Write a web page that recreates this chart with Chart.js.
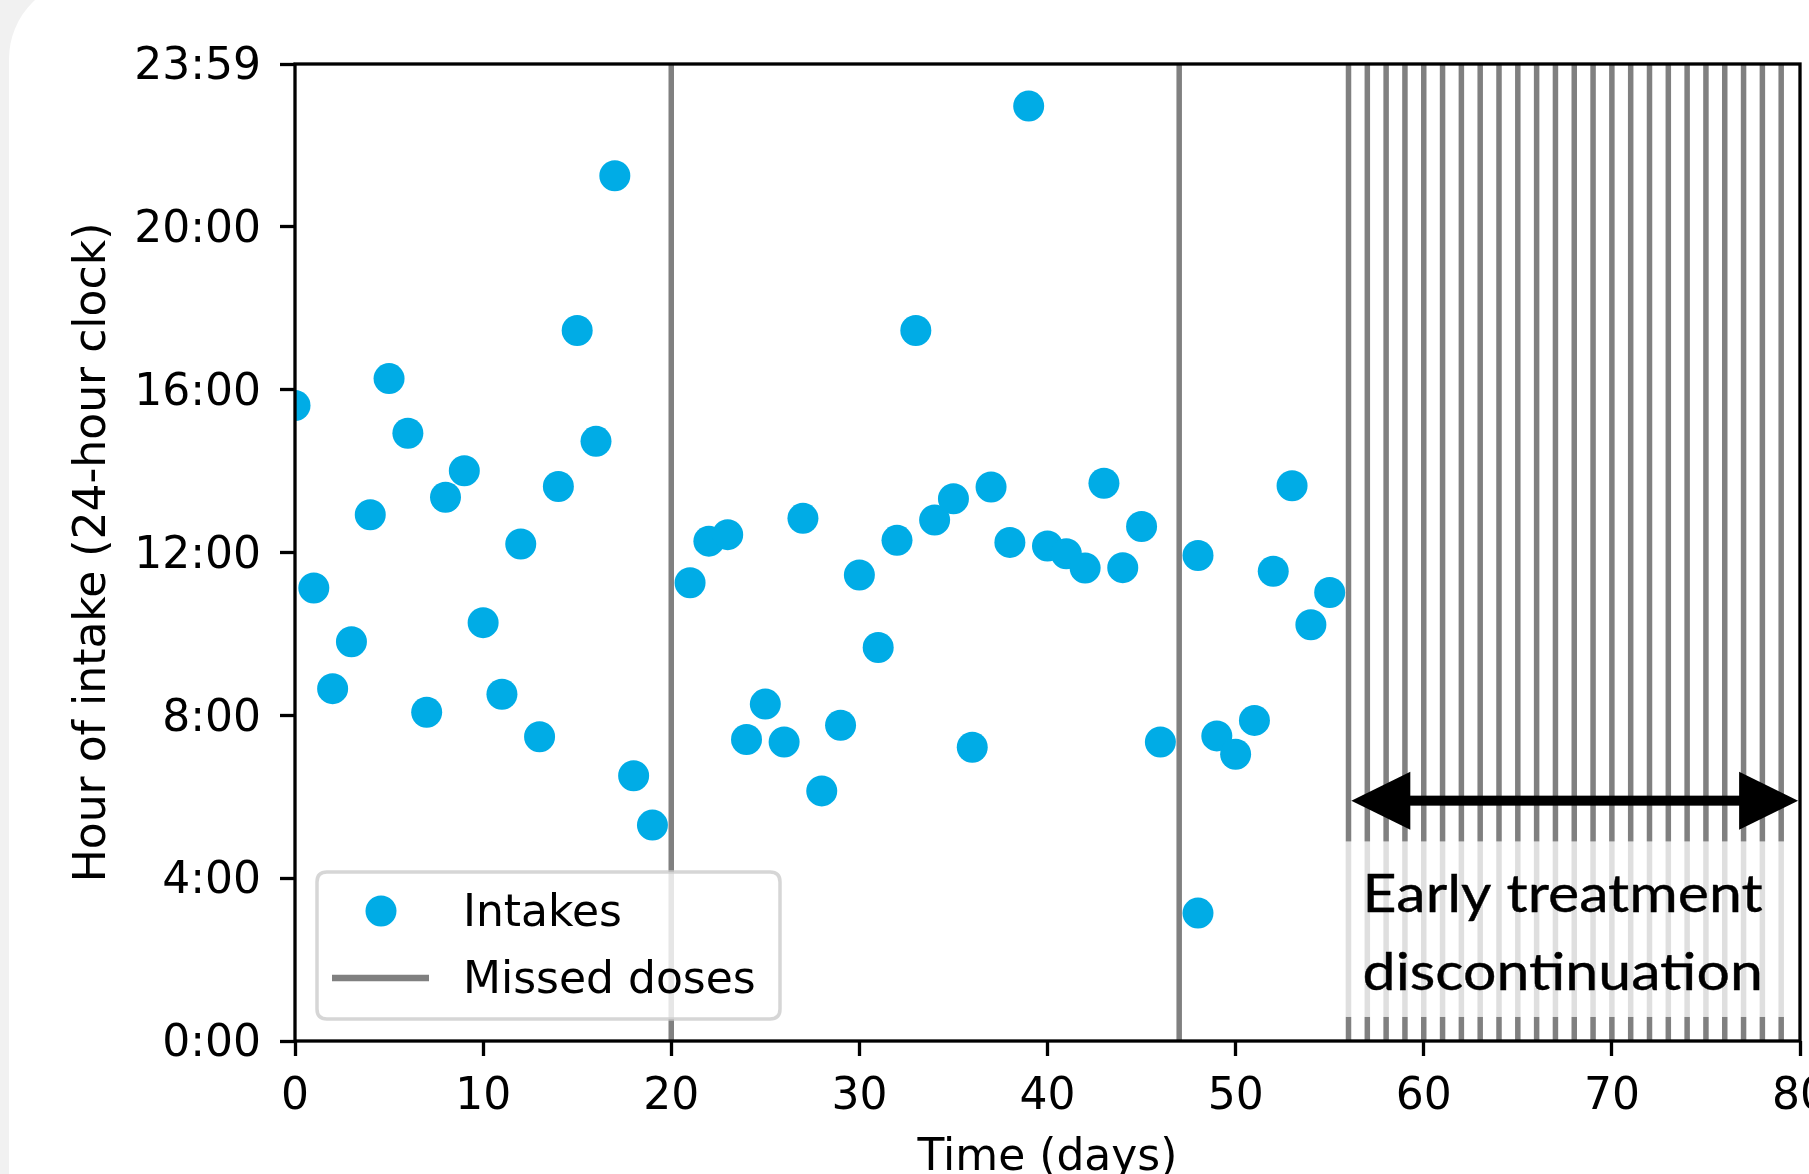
<!DOCTYPE html>
<html>
<head>
<meta charset="utf-8">
<script src="https://cdn.jsdelivr.net/npm/chart.js@4.4.1/dist/chart.umd.min.js"></script>
<style>
  html, body { margin:0; padding:0; width:1809px; height:1174px; overflow:hidden; background:#f1f1f1; }
  #card { position:absolute; left:9px; top:-21px; width:1900px; height:1300px; background:#ffffff; border-radius:80px; }
  #c { position:absolute; left:0; top:0; }
</style>
</head>
<body>
<div id="card"></div>
<canvas id="c" width="1860" height="1230" style="width:1860px;height:1230px"></canvas>
<script>
// ---------------- DATA ----------------
const intakeDays = [
  0, 1, 2, 3, 4, 5, 6, 7, 8, 9, 10, 11, 12, 13, 14, 15, 16, 17, 18, 19,
  21, 22, 23, 24, 25, 26, 27, 28, 29, 30, 31, 32, 33, 34, 35, 36, 37, 38, 39, 40,
  41, 42, 43, 44, 45, 46,
  48, 48, 49, 50, 51, 52, 53, 54, 55
];
// hour of intake (decimal hours, 24-hour clock)
const intakeHours = [
  15.60, 11.12, 8.65, 9.80, 12.92, 16.26, 14.92, 8.07, 13.35, 14.00,
  10.27, 8.51, 12.20, 7.47, 13.61, 17.44, 14.72, 21.24, 6.51, 5.30,
  11.25, 12.27, 12.43, 7.40, 8.27, 7.34, 12.83, 6.14, 7.75, 11.44,
  9.66, 12.29, 17.44, 12.79, 13.31, 7.21, 13.60, 12.24, 22.95, 12.15,
  11.96, 11.61, 13.69, 11.62, 12.63, 7.34,
  11.92, 3.14, 7.49, 7.04, 7.87, 11.53, 13.63, 10.22, 11.01
];
const missedDays = [
  20, 47,
  56, 57, 58, 59, 60, 61, 62, 63, 64, 65, 66, 67, 68, 69, 70, 71, 72, 73, 74, 75, 76, 77, 78, 79
];
const xTickValues = [0, 10, 20, 30, 40, 50, 60, 70, 80];
const yTickValues = [0, 4, 8, 12, 16, 20, 23 + 59 / 60];
const yTickLabels = ['0:00', '4:00', '8:00', '12:00', '16:00', '20:00', '23:59'];
const seriesLabels = ['Intakes', 'Missed doses'];
const noteLines = ['Early treatment', 'discontinuation'];
const axisTitles = { x: 'Time (days)', y: 'Hour of intake (24-hour clock)' };

const X_MIN = xTickValues[0], X_MAX = xTickValues[xTickValues.length - 1];
const Y_MIN = yTickValues[0], Y_MAX = yTickValues[yTickValues.length - 1];

// ---------------- BUILD DATASETS ----------------
const intakePoints = intakeDays.map((d, i) => ({ x: d, y: intakeHours[i] }));
const missedPoints = [];
missedDays.forEach(d => {
  missedPoints.push({ x: d, y: Y_MIN }, { x: d, y: Y_MAX }, { x: d, y: null });
});

const BLUE = '#00ace6';
const GRAY = '#808080';
const FONT = "'DejaVu Sans', sans-serif";

// ---------------- PLUGINS ----------------
const framePlugin = {
  id: 'frame',
  afterDatasetsDraw(chart) {
    const { ctx, chartArea: a } = chart;
    ctx.save();
    ctx.strokeStyle = '#000';
    ctx.lineWidth = 3.3;
    ctx.strokeRect(a.left, a.top, a.right - a.left, a.bottom - a.top);
    ctx.restore();
  }
};

const notePlugin = {
  id: 'note',
  afterDatasetsDraw(chart, args, o) {
    const { ctx } = chart;
    const xs = chart.scales.x, ys = chart.scales.y;
    ctx.save();
    const a = chart.chartArea;
    ctx.beginPath();
    ctx.rect(a.left, a.top, a.right - a.left, a.bottom - a.top);
    ctx.clip();
    // text background box
    const bx0 = xs.getPixelForValue(o.box[0]), bx1 = xs.getPixelForValue(o.box[1]);
    const byT = ys.getPixelForValue(o.box[3]), byB = ys.getPixelForValue(o.box[2]);
    ctx.fillStyle = 'rgba(255,255,255,0.75)';
    ctx.fillRect(bx0, byT, bx1 - bx0, byB - byT);
    // text
    ctx.fillStyle = '#000';
    ctx.font = o.fontSize + "px Lato, 'Open Sans', sans-serif";
    ctx.textBaseline = 'alphabetic';
    ctx.textAlign = 'left';
    const w = ctx.measureText(noteLines[0]).width;
    const sx = o.textWidth / w;
    const tx = xs.getPixelForValue(o.textX);
    noteLines.forEach((line, i) => {
      const ty = ys.getPixelForValue(o.baselines[i]);
      ctx.save();
      ctx.translate(tx, ty);
      ctx.scale(sx, 1);
      ctx.fillText(line, 0, 0);
      ctx.lineWidth = 0.4;
      ctx.strokeStyle = '#000';
      ctx.strokeText(line, 0, 0);
      ctx.restore();
    });
    // double-headed arrow
    const ax0 = xs.getPixelForValue(o.arrow[0]), ax1 = xs.getPixelForValue(o.arrow[1]);
    const ay = ys.getPixelForValue(o.arrow[2]);
    const hl = 59, hw = 29, sw = 10;
    ctx.fillStyle = '#000';
    ctx.fillRect(ax0 + hl - 1, ay - sw / 2, (ax1 - ax0) - 2 * hl + 2, sw);
    ctx.beginPath();
    ctx.moveTo(ax0, ay); ctx.lineTo(ax0 + hl, ay - hw); ctx.lineTo(ax0 + hl, ay + hw); ctx.closePath();
    ctx.fill();
    ctx.beginPath();
    ctx.moveTo(ax1, ay); ctx.lineTo(ax1 - hl, ay - hw); ctx.lineTo(ax1 - hl, ay + hw); ctx.closePath();
    ctx.fill();
    ctx.restore();
  }
};

const legendPlugin = {
  id: 'mplLegend',
  afterDatasetsDraw(chart) {
    const { ctx, chartArea: a } = chart;
    const bw = 463, bh = 147;
    const bx = a.left + 22, by = a.bottom - 22 - bh;
    const r = 10;
    ctx.save();
    ctx.beginPath();
    ctx.moveTo(bx + r, by);
    ctx.lineTo(bx + bw - r, by); ctx.quadraticCurveTo(bx + bw, by, bx + bw, by + r);
    ctx.lineTo(bx + bw, by + bh - r); ctx.quadraticCurveTo(bx + bw, by + bh, bx + bw - r, by + bh);
    ctx.lineTo(bx + r, by + bh); ctx.quadraticCurveTo(bx, by + bh, bx, by + bh - r);
    ctx.lineTo(bx, by + r); ctx.quadraticCurveTo(bx, by, bx + r, by);
    ctx.closePath();
    ctx.fillStyle = 'rgba(255,255,255,0.8)';
    ctx.fill();
    ctx.lineWidth = 3.5;
    ctx.strokeStyle = 'rgba(204,204,204,0.8)';
    ctx.stroke();
    const dsets = chart.data.datasets;
    ctx.font = '44px ' + FONT;
    ctx.textBaseline = 'middle';
    ctx.textAlign = 'left';
    dsets.forEach((ds, i) => {
      const y = by + 39 + i * 67;
      if (ds.type === 'scatter') {
        ctx.beginPath();
        ctx.arc(bx + 64, y, ds.pointRadius, 0, Math.PI * 2);
        ctx.fillStyle = ds.backgroundColor;
        ctx.fill();
      } else {
        ctx.beginPath();
        ctx.moveTo(bx + 15, y); ctx.lineTo(bx + 112, y);
        ctx.lineWidth = 6.5;
        ctx.strokeStyle = ds.borderColor;
        ctx.stroke();
      }
      ctx.fillStyle = '#000';
      ctx.fillText(ds.label, bx + 146, y + 4);
    });
    ctx.restore();
  }
};

// ---------------- CHART ----------------
Chart.defaults.font.family = FONT;
Chart.defaults.font.size = 44;
Chart.defaults.color = '#000';

new Chart(document.getElementById('c'), {
  type: 'scatter',
  data: {
    datasets: [
      {
        type: 'scatter',
        label: seriesLabels[0],
        data: intakePoints,
        backgroundColor: BLUE,
        borderWidth: 0,
        pointRadius: 15.5,
        pointHoverRadius: 15.5,
        clip: 0,
        order: 2
      },
      {
        type: 'line',
        label: seriesLabels[1],
        data: missedPoints,
        borderColor: GRAY,
        borderWidth: 5.5,
        pointRadius: 0,
        spanGaps: false,
        fill: false,
        clip: 0,
        order: 1
      }
    ]
  },
  options: {
    responsive: false,
    animation: false,
    devicePixelRatio: 1,
    layout: { padding: { left: 0, top: 64, right: 60, bottom: 0 } },
    plugins: {
      legend: { display: false },
      tooltip: { enabled: false },
      note: {
        box: [55.82, 79.32, 0.59, 4.90],
        textX: 56.75,
        baselines: [3.17, 1.26],
        fontSize: 53,
        textWidth: 400,
        arrow: [56.15, 79.9, 5.90]
      }
    },
    scales: {
      x: {
        type: 'linear',
        min: X_MIN, max: X_MAX,
        afterBuildTicks: s => { s.ticks = xTickValues.map(v => ({ value: v })); },
        afterFit: s => { s.height = 1230 - 1041; },
        ticks: { autoSkip: false, padding: 15, maxRotation: 0, font: { size: 44 }, color: '#000' },
        grid: { drawOnChartArea: false, drawTicks: true, tickLength: 15, tickColor: '#000', tickWidth: 3.3, color: '#000' },
        border: { display: false },
        title: { display: true, text: axisTitles.x, font: { size: 44, lineHeight: 1.2 }, color: '#000', padding: { top: 0, bottom: 45 } }
      },
      y: {
        type: 'linear',
        min: Y_MIN, max: Y_MAX,
        afterBuildTicks: s => { s.ticks = yTickValues.map(v => ({ value: v })); },
        afterFit: s => { s.width = 295; },
        ticks: { autoSkip: false, padding: 19, labelOffset: 4, font: { size: 44 }, color: '#000', callback: (v, i) => yTickLabels[i] },
        grid: { drawOnChartArea: false, drawTicks: true, tickLength: 15, tickColor: '#000', tickWidth: 3.3, color: '#000' },
        border: { display: false },
        title: { display: true, text: axisTitles.y, font: { size: 44, lineHeight: 1.2 }, color: '#000', padding: { top: 67, bottom: 0 } }
      }
    }
  },
  plugins: [notePlugin, legendPlugin, framePlugin]
});
</script>
</body>
</html>
